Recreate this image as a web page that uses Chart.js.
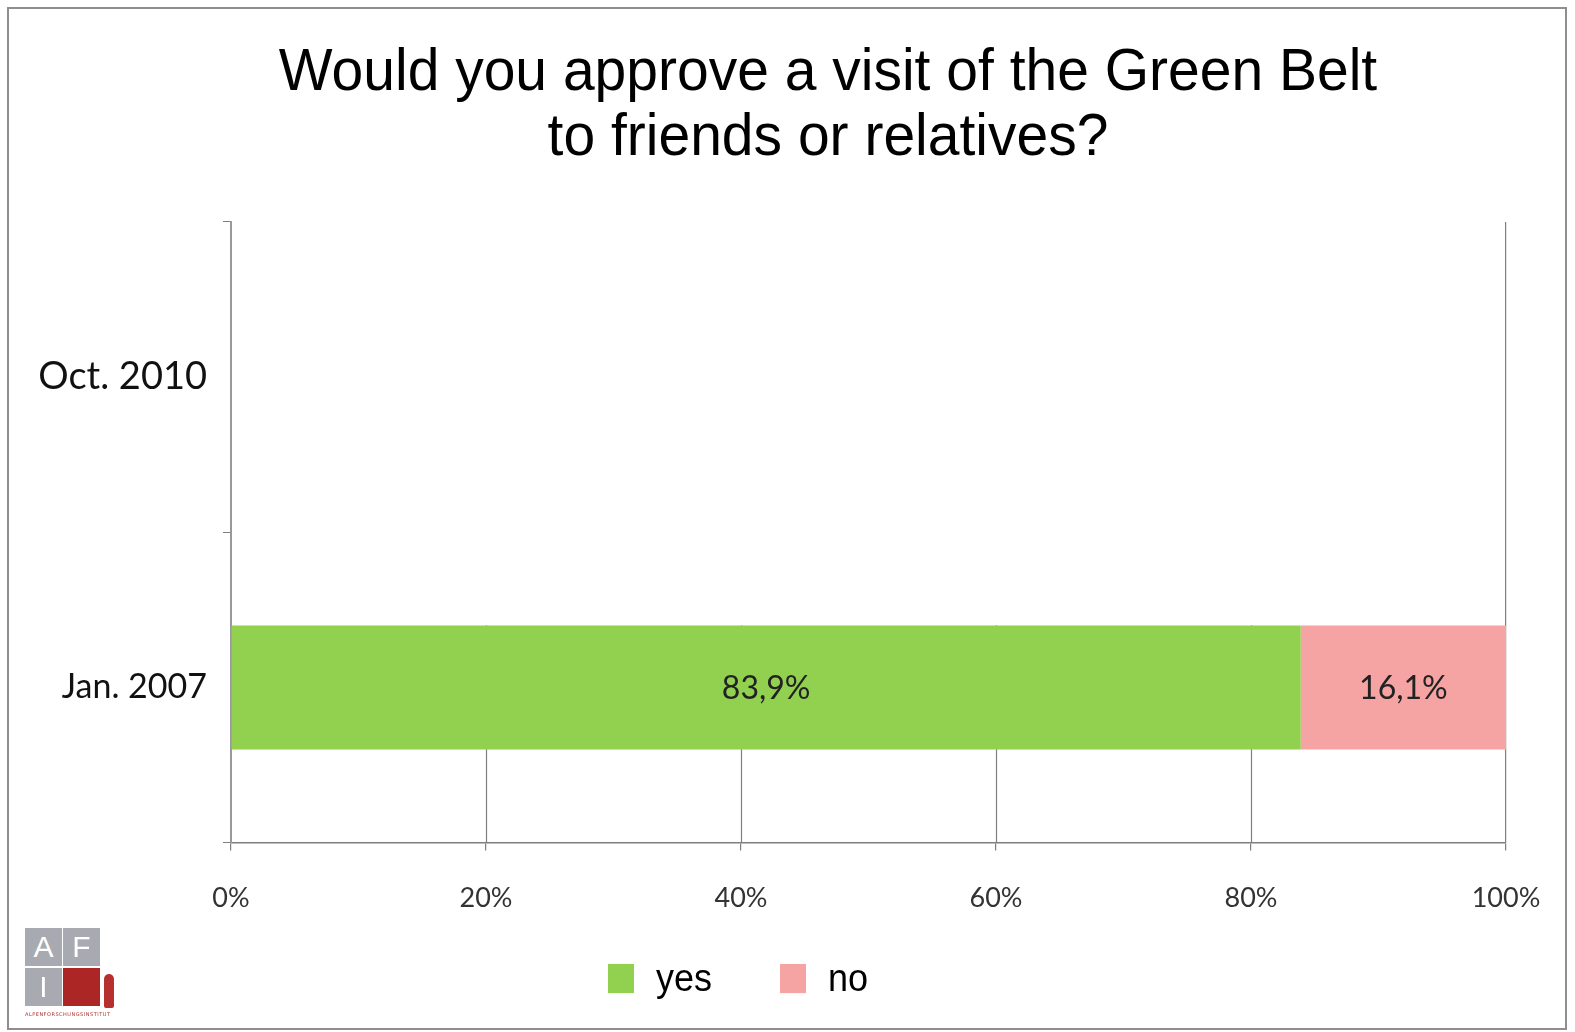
<!DOCTYPE html>
<html>
<head>
<meta charset="utf-8">
<title>Green Belt visit approval</title>
<script src="https://cdn.jsdelivr.net/npm/chart.js@4.4.1/dist/chart.umd.min.js"></script>
<style>
  html, body { margin:0; padding:0; background:#fff; }
  #wrap { position:relative; width:1575px; height:1032px; overflow:hidden; }
  #frame { position:absolute; left:7px; top:7px; width:1556px; height:1019px; border:2px solid #8e8e8e; }
  #chart { position:absolute; left:0; top:0; }
  #title {
    position:absolute; left:100px; width:1456px; top:36px;
    font-family:"Liberation Sans", Arial, sans-serif; font-size:57px; line-height:62px;
    text-align:center; color:#000; transform:scaleY(1.05); transform-origin:top center;
  }
  #legend {
    position:absolute; left:608px; top:957px; display:flex; align-items:center;
    font-family:"Liberation Sans", Arial, sans-serif; font-size:36px; color:#000;
    transform:scaleY(1.08);
  }
  .lg-item { display:flex; align-items:center; margin-right:68px; }
  .lg-box { width:26px; height:27px; margin-right:22px; }
  /* logo */
  #logo { position:absolute; left:25px; top:928px; }
  .cell { position:absolute; width:37px; height:38px; background:#a7aab0; color:#fff;
          font-family:"Liberation Sans", Arial, sans-serif; font-size:30px; text-align:center; line-height:38px; }
  .red { background:#ad2626; }
  #fig { position:absolute; left:79px; top:46px; width:10px; height:34px; background:#b73030; border-radius:5px 5px 2px 2px; }
  #tiny { position:absolute; left:0; top:83px; font-size:5px; color:#b03030; font-family:"DejaVu Sans", sans-serif; letter-spacing:0.5px; white-space:nowrap; }
</style>
</head>
<body>
<div id="wrap">
  <div id="frame"></div>
  <canvas id="chart" width="1575" height="1032"></canvas>
  <div id="title">Would you approve a visit of the Green Belt<br>to friends or relatives?</div>
  <div id="legend"></div>
  <div id="logo">
    <div class="cell" style="left:0;top:0;">A</div>
    <div class="cell" style="left:38px;top:0;">F</div>
    <div class="cell" style="left:0;top:40px;">I</div>
    <div class="cell red" style="left:38px;top:40px;"></div>
    <div id="fig"></div>
    <div id="tiny">ALPENFORSCHUNGSINSTITUT</div>
  </div>
</div>

<script>
// data
const categories = ["Oct. 2010", "Jan. 2007"];
const yesValues  = [0, 83.9];
const noValues   = [0, 16.1];
const xTicks     = [0, 20, 40, 60, 80, 100];

const GREEN = "#92d050";
const PINK  = "#f5a3a3";
const GRID  = "#7f7f7f";

function pct(v){ return v.toFixed(1).replace(".", ",") + "%"; }

// values inside the bars
const barLabels = {
  id: "barLabels",
  afterDatasetsDraw(chart){
    const ctx = chart.ctx;
    ctx.save();
    ctx.font = "32px Lato, 'Open Sans', sans-serif";
    ctx.fillStyle = "#222";
    ctx.textAlign = "center";
    ctx.textBaseline = "middle";
    chart.data.datasets.forEach((ds, i) => {
      const meta = chart.getDatasetMeta(i);
      meta.data.forEach((el, j) => {
        const v = ds.data[j];
        if (!v) return;
        const p = el.getCenterPoint();
        ctx.fillText(pct(v), p.x, p.y + 1);
      });
    });
    ctx.restore();
  }
};

// vertical grid only shows under the lower bar (upper part of the plot is blank in the original)
const lowerGrid = {
  id: "lowerGrid",
  beforeDatasetsDraw(chart){
    const ctx = chart.ctx;
    const x = chart.scales.x;
    const el = chart.getDatasetMeta(0).data[1];
    const top = el.y - el.height / 2;
    ctx.save();
    ctx.strokeStyle = GRID;
    ctx.lineWidth = 1.2;
    xTicks.slice(1, -1).forEach(t => {
      const px = Math.round(x.getPixelForValue(t)) + 0.5;
      ctx.beginPath();
      ctx.moveTo(px, top);
      ctx.lineTo(px, chart.chartArea.bottom);
      ctx.stroke();
    });
    ctx.restore();
  }
};

const chart = new Chart(document.getElementById("chart"), {
  type: "bar",
  data: {
    labels: categories,
    datasets: [
      { label: "yes", data: yesValues, backgroundColor: GREEN },
      { label: "no",  data: noValues,  backgroundColor: PINK }
    ]
  },
  options: {
    indexAxis: "y",
    responsive: false,
    animation: false,
    categoryPercentage: 1,
    barPercentage: 0.4,
    layout: { padding: { left: 20, right: 69, top: 222, bottom: 87 } },
    plugins: {
      legend: { display: false },
      tooltip: { enabled: false },
      title: { display: false }
    },
    scales: {
      x: {
        stacked: true,
        min: 0, max: 100,
        afterBuildTicks: s => { s.ticks = xTicks.map(v => ({ value: v })); },
        ticks: {
          callback: v => v + "%",
          font: { family: "Lato, 'Open Sans', sans-serif", size: 27 },
          color: "#333",
          padding: 31,
          maxRotation: 0
        },
        grid: {
          color: c => (c.tick && c.tick.value === 100) ? GRID : "rgba(0,0,0,0)",
          tickColor: GRID,
          tickLength: 8,
          lineWidth: 1.2
        },
        border: { color: GRID, width: 1.5 }
      },
      y: {
        stacked: true,
        afterFit: s => { s.width = 211; },
        ticks: {
          font: c => ({ family: "Lato, 'Open Sans', sans-serif", size: c.index === 0 ? 38 : 34 }),
          color: "#111",
          padding: 16
        },
        grid: { drawOnChartArea: false, tickColor: GRID, tickLength: 8, offset: true },
        border: { color: "#999", width: 2 }
      }
    }
  },
  plugins: [lowerGrid, barLabels]
});

// legend built from the datasets
const legend = document.getElementById("legend");
chart.data.datasets.forEach(ds => {
  const item = document.createElement("div");
  item.className = "lg-item";
  item.innerHTML = `<div class="lg-box" style="background:${ds.backgroundColor}"></div><span>${ds.label}</span>`;
  legend.appendChild(item);
});
</script>
</body>
</html>
